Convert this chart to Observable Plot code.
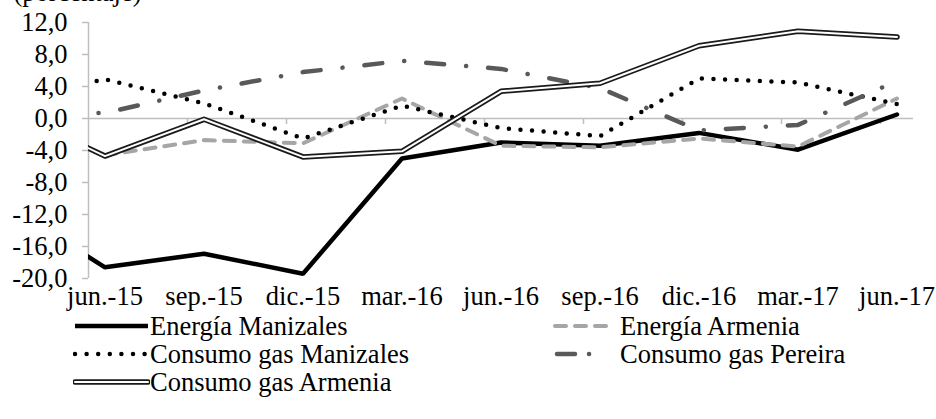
<!DOCTYPE html>
<html>
<head>
<meta charset="utf-8">
<script src="https://cdn.jsdelivr.net/npm/d3@7"></script>
<script src="https://cdn.jsdelivr.net/npm/@observablehq/plot@0.6"></script>
<style>
  html, body { margin: 0; padding: 0; background: white; }
  #wrap { position: relative; width: 936px; height: 419px; overflow: hidden; font-family: "Liberation Serif", "DejaVu Serif", serif; }
  #legend { position: absolute; left: 0; top: 0; width: 936px; }
  .item { position: absolute; display: flex; align-items: center; font-size: 26.5px; color: #000; white-space: nowrap; }
  .item svg { display: block; }
</style>
</head>
<body>
<div id="wrap"><div id="chart"></div><div id="legend"></div></div>
<script>
// ---- data (quarterly; first entry = mar.-15, drawn only up to the plot edge) ----
const quarterIndex = [-1, 0, 1, 2, 3, 4, 5, 6, 7, 8];
const xLabels = ["jun.-15", "sep.-15", "dic.-15", "mar.-16", "jun.-16", "sep.-16", "dic.-16", "mar.-17", "jun.-17"];
const yTicks = [-20, -16, -12, -8, -4, 0, 4, 8, 12];
const energiaManizales = [-10.8, -18.6, -16.9, -19.4, -5.0, -3.0, -3.4, -1.8, -3.9, 0.5];
const energiaArmenia   = [null, -4.6, -2.7, -3.1, 2.5, -3.4, -3.6, -2.5, -3.5, 2.5];
const gasManizales     = [2.2, 4.9, 1.9, -2.5, 1.6, -1.2, -2.2, 5.0, 4.5, 1.8];
const gasPereira       = [0.5, 0.7, 3.5, 5.8, 7.2, 6.2, 3.8, -1.5, -0.8, 4.7];
const gasArmenia       = [1.2, -4.7, -0.1, -4.8, -4.1, 3.4, 4.4, 9.1, 10.9, 10.2];
const seriesNames = ["Energía Manizales", "Energía Armenia", "Consumo gas Manizales", "Consumo gas Pereira", "Consumo gas Armenia"];
const title = "(porcentaje)";

const toRows = (vals) => quarterIndex.map((q, i) => ({x: q * 3, y: vals[i]})).filter(d => d.y != null);
const xTickMarks = d3.range(0, 9).map(k => k * 3 - 0.5);   // category boundaries every 3 months
const xLabelPos = d3.range(0, 9).map(k => k * 3);
const fmt = d => d.toFixed(1).replace(".", ",");
const FONT = "Liberation Serif, DejaVu Serif, serif";
const FS = 26.5;

const grid = "#bfbfbf";
const styles = {
  "Energía Manizales": {stroke: "#000", strokeWidth: 4.5, strokeLinejoin: "miter"},
  "Energía Armenia": {stroke: "#a6a6a6", strokeWidth: 4, strokeDasharray: "11,9", strokeLinecap: "round"},
  "Consumo gas Manizales": {stroke: "#000", strokeWidth: 4.5, strokeDasharray: "0,11.6", strokeLinecap: "round"},
  "Consumo gas Pereira": {stroke: "#595959", strokeWidth: 4.5, strokeDasharray: "18,22,0.1,22", strokeDashoffset: 9.6, strokeLinecap: "round"}
};

const chart = Plot.plot({
  width: 936,
  height: 330,
  marginLeft: 88,
  marginRight: 23,
  marginTop: 22,
  marginBottom: 52,
  x: {domain: [-0.5, 24.5], type: "linear"},
  y: {domain: [-20, 12]},
  style: {fontFamily: FONT, fontSize: FS + "px", background: "white", color: "black", overflow: "visible"},
  marks: [
    Plot.ruleY([0], {stroke: grid, strokeWidth: 1.5}),
    Plot.ruleX([-0.5], {y1: -20, y2: 12, stroke: grid, strokeWidth: 1.5}),
    Plot.ruleX(xTickMarks.slice(1), {y1: 0, y2: -0.75, stroke: grid, strokeWidth: 1.5}),
    Plot.axisY(yTicks, {tickSize: 6, tickPadding: 15, tickFormat: fmt, stroke: grid, strokeWidth: 1.5, fill: "black", fontSize: FS, fontFamily: FONT, label: null}),
    Plot.axisX(xLabelPos, {anchor: "bottom", tickSize: 0, tickPadding: 8, tickFormat: d => xLabels[d / 3], fill: "black", fontSize: FS, fontFamily: FONT, label: null}),
    Plot.text([title], {frameAnchor: "top-left", dx: -75, dy: -30, textAnchor: "start", lineAnchor: "middle", fontSize: FS, fontFamily: FONT, fill: "black"}),
    Plot.line(toRows(energiaManizales), {x: "x", y: "y", clip: true, ...styles["Energía Manizales"]}),
    Plot.line(toRows(energiaArmenia), {x: "x", y: "y", clip: true, ...styles["Energía Armenia"]}),
    Plot.line(toRows(gasManizales), {x: "x", y: "y", clip: true, ...styles["Consumo gas Manizales"]}),
    Plot.line(toRows(gasPereira), {x: "x", y: "y", clip: true, ...styles["Consumo gas Pereira"]}),
    Plot.line(toRows(gasArmenia), {x: "x", y: "y", clip: true, stroke: "#1a1a1a", strokeWidth: 5.5}),
    Plot.line(toRows(gasArmenia), {x: "x", y: "y", clip: true, stroke: "white", strokeWidth: 2})
  ]
});
document.getElementById("chart").appendChild(chart);

// ---- legend ----
function sample(name, w) {
  const ns = "http://www.w3.org/2000/svg";
  const svg = document.createElementNS(ns, "svg");
  svg.setAttribute("width", w); svg.setAttribute("height", 14);
  const mk = (attrs) => {
    const l = document.createElementNS(ns, "line");
    l.setAttribute("x1", 2); l.setAttribute("x2", w - 2); l.setAttribute("y1", 7); l.setAttribute("y2", 7);
    for (const k in attrs) l.setAttribute(k, attrs[k]);
    svg.appendChild(l);
  };
  if (name === "Consumo gas Armenia") {
    mk({stroke: "#1a1a1a", "stroke-width": 5.5, "stroke-linecap": "round"});
    mk({stroke: "white", "stroke-width": 2, "stroke-linecap": "round"});
  } else {
    const s = styles[name];
    const a = {stroke: s.stroke, "stroke-width": s.strokeWidth};
    if (s.strokeDasharray) a["stroke-dasharray"] = s.strokeDasharray;
    if (s.strokeLinecap) a["stroke-linecap"] = s.strokeLinecap;
    if (name === "Consumo gas Pereira") { a["stroke-dasharray"] = "18,14,0.1,40"; a.x1 = 4; }
    mk(a);
  }
  return svg;
}
const legendPos = [
  {name: seriesNames[0], left: 73, top: 312, w: 77},
  {name: seriesNames[1], left: 553, top: 312, w: 62},
  {name: seriesNames[2], left: 73, top: 340, w: 77},
  {name: seriesNames[3], left: 553, top: 340, w: 62},
  {name: seriesNames[4], left: 73, top: 368, w: 77}
];
const leg = document.getElementById("legend");
for (const p of legendPos) {
  const d = document.createElement("div");
  d.className = "item";
  d.style.left = p.left + "px"; d.style.top = p.top + "px"; d.style.height = "28px";
  d.appendChild(sample(p.name, p.w));
  const t = document.createElement("span");
  t.textContent = p.name;
  t.style.marginLeft = (p.left > 300 ? 5 : 0) + "px";
  d.appendChild(t);
  leg.appendChild(d);
}
</script>
</body>
</html>
